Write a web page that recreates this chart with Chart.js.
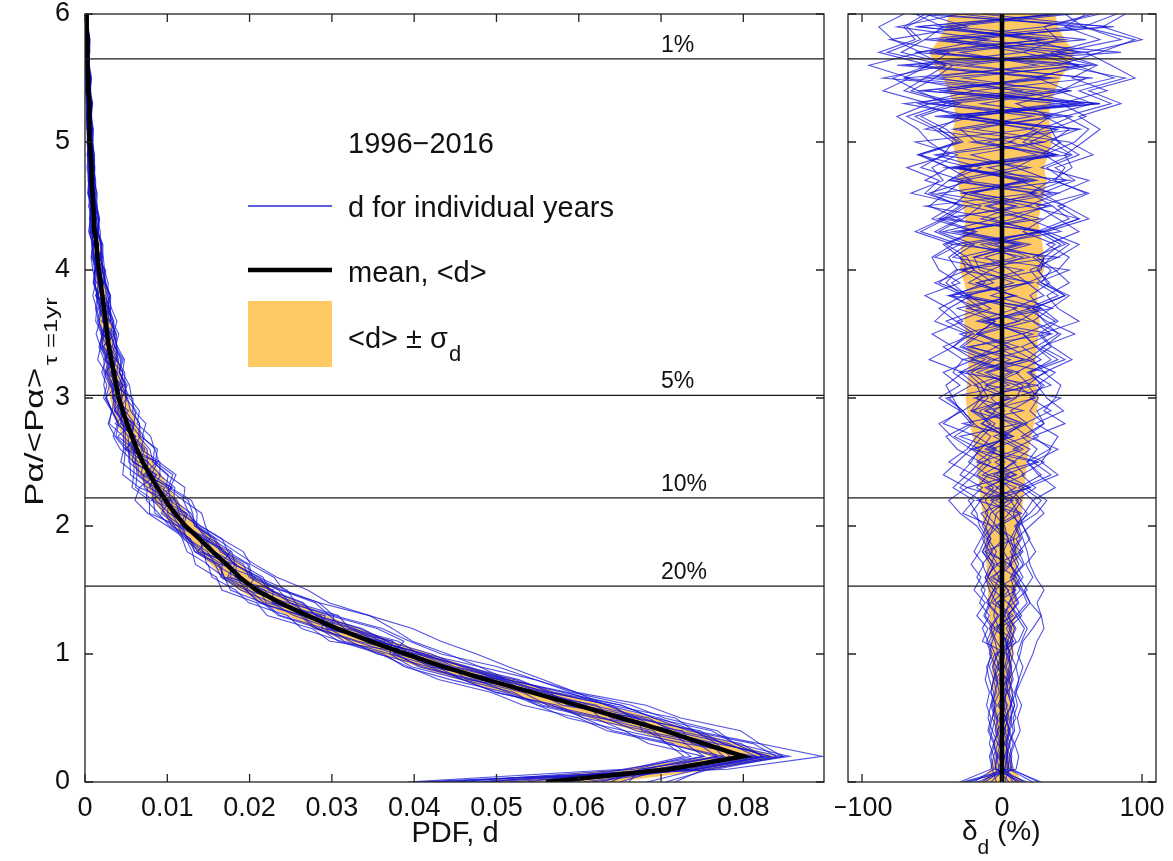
<!DOCTYPE html>
<html>
<head>
<meta charset="utf-8">
<script src="https://cdn.jsdelivr.net/npm/chart.js@4.4.1/dist/chart.umd.min.js"></script>
<style>
  html, body { margin: 0; padding: 0; background: #fff; }
  #wrap { position: relative; width: 1173px; height: 861px; }
  #left { position: absolute; left: 0; top: 0; }
  #right { position: absolute; left: 835px; top: 0; }
</style>
</head>
<body>
<div id="wrap">
  <canvas id="left" width="835" height="861"></canvas>
  <canvas id="right" width="338" height="861"></canvas>
</div>
<script>
// bins of P/<P> (vertical axis)
const levels = [0.0, 0.1, 0.2, 0.3, 0.4, 0.5, 0.6, 0.7, 0.8, 0.9,
  1.0, 1.1, 1.2, 1.3, 1.4, 1.5, 1.6, 1.7, 1.8, 1.9,
  2.0, 2.1, 2.2, 2.3, 2.4, 2.5, 2.6, 2.7, 2.8, 2.9,
  3.0, 3.1, 3.2, 3.3, 3.4, 3.5, 3.6, 3.7, 3.8, 3.9,
  4.0, 4.1, 4.2, 4.3, 4.4, 4.5, 4.6, 4.7, 4.8, 4.9,
  5.0, 5.1, 5.2, 5.3, 5.4, 5.5, 5.6, 5.7, 5.8, 5.9, 6.0];

// mean pdf <d>
const meanD = [0.0560, 0.0710, 0.0800, 0.0752, 0.0705, 0.0652, 0.0598, 0.0543, 0.0488, 0.0436,
  0.0390, 0.0346, 0.0306, 0.0270, 0.0237, 0.0208, 0.0188, 0.0172, 0.0155, 0.0139,
  0.0122, 0.0109, 0.0098, 0.0088, 0.0079, 0.0070, 0.0063, 0.0057, 0.0051, 0.0046,
  0.0041, 0.0038, 0.0035, 0.0032, 0.0029, 0.0027, 0.0025, 0.0023, 0.0021, 0.0019,
  0.0017, 0.0015, 0.0014, 0.0012, 0.0011, 0.0010, 0.0009, 0.0008, 0.0008, 0.0007,
  0.0006, 0.0006, 0.0005, 0.0005, 0.0004, 0.0004, 0.0003, 0.0003, 0.0003, 0.0002, 0.0002];

// sigma_d in % of <d>
const sigmaPct = [15, 8, 5, 5, 5, 6, 6, 6, 7, 7,
  8, 8, 9, 9, 10, 10, 11, 11, 12, 12,
  13, 14, 15, 16, 17, 18, 19, 21, 23, 25,
  26, 25, 24, 24, 25, 26, 27, 26, 25, 27,
  30, 30, 29, 27, 26, 28, 30, 32, 30, 33,
  36, 35, 33, 35, 38, 42, 48, 52, 45, 40, 38];

// deviation of each year from the mean, delta_d (%)
const dev1996 = [-24, 4,3,5,8,6,9,7,5,10,6, 3,-2,-6,-4,-9,-12,-8,-14,-10,-16, -18,-24,-14,-30,-22,-16,-34,-20,-28,-38, -22,-35,-28,-42,-20,-33,-45,-28,-40,-32, -38,-25,-48,-30,-52,-40,-28,-58,-42,-35, -48,-68,-40,-60,-78,-52,-88,-62,-70,-55];
const dev1997 = [18, -5,-4,-6,-3,-7,-5,-8,-6,-4,-9, -7,-3,2,5,9,6,12,8,14,10, 16,22,12,28,18,25,14,30,20,26, 18,30,22,35,26,40,28,20,34,25, 30,42,25,48,36,20,45,32,55,40, 35,60,42,75,50,68,40,85,58,45];
const dev1998 = [-8, 2,-3,1,-4,3,-2,4,-5,2,-3, 5,-6,8,-4,10,-8,6,-12,9,-5, 12,-18,20,-10,25,-22,8,-28,15,-20, 25,-30,18,-25,35,-15,28,-38,22,-30, 40,-35,30,-45,20,-28,48,-40,35,-22, 55,-48,70,-60,35,-75,62,-40,80,-65];
const dev1999 = [28, 6,7,5,9,8,11,9,12,10,13, 15,22,28,25,30,24,20,18,15,12, 8,14,5,-6,10,-12,4,-15,2,-8, 10,-18,6,-22,14,-10,20,-25,8,-16, -20,12,-30,18,-12,25,-35,10,-22,30, -35,22,-50,38,-28,55,-62,30,-45,40];
const dev2000 = [-30, -8,-6,-9,-7,-10,-8,-6,-9,-11,-7, -10,-14,-9,-16,-12,-18,-13,-20,-15,-11, -8,4,-12,10,-5,15,-2,18,6,22, 28,20,35,24,40,30,22,45,32,26, 35,48,28,55,40,62,36,50,45,58, 70,55,85,62,95,78,60,100,72,88];
const dev2001 = [10, 3,2,4,1,5,3,2,4,6,3, 4,7,2,-3,5,-6,3,-8,1,-4, -12,-6,-18,-10,-24,-15,-8,-20,-28,-14, -18,-30,-12,-35,-22,-40,-15,-28,-48,-25, -30,-42,-20,-50,-35,-25,-55,-38,-60,-32, -45,-62,-35,-70,-55,-40,-82,-58,-68,-50];
const dev2002 = [22, 5,4,3,6,2,7,4,3,5,8, 6,9,4,11,7,13,5,10,8,12, 18,10,24,14,30,8,26,16,35,20, 30,18,40,25,15,38,22,45,28,35, 22,45,30,55,18,40,62,28,50,35, 48,30,65,40,80,52,35,70,45,60];
const dev2003 = [-14, -2,-4,-1,-5,-3,-6,-2,-4,-7,-3, -5,-9,-3,-11,-6,-2,-8,-4,-10,-6, -4,8,-10,5,-15,12,-6,16,-12,4, -20,6,-28,12,-18,-5,-32,10,-24,-8, 15,-25,28,-38,10,-45,22,-30,38,-18, -30,45,-55,25,-70,40,-48,60,-35,50];
const dev2004 = [5, -3,1,-2,3,-4,2,-1,4,-3,1, 8,3,10,5,13,7,15,9,6,11, 25,32,18,40,28,35,22,45,30,38, 42,30,50,36,28,55,40,32,48,38, 25,38,15,30,45,20,35,10,28,42, 20,35,10,48,25,55,15,40,30,65];
const dev2005 = [-18, 8,6,9,5,10,7,4,8,6,5, 3,-4,6,-7,2,-10,-5,-14,-8,-12, -22,-15,-30,-20,-38,-25,-18,-42,-30,-35, -40,-28,-52,-35,-25,-48,-38,-55,-30,-45, -50,-35,-62,-42,-28,-55,-45,-68,-38,-52, -60,-75,-52,-85,-66,-95,-58,-78,-88,-70];
const dev2006 = [12, -4,-6,-3,-7,-5,-8,-4,-6,-2,-5, -9,-5,-12,-8,-4,-10,-14,-7,-11,-3, 5,12,-4,16,8,20,2,14,-6,10, 15,-10,22,4,-18,12,28,-8,18,6, -12,20,-28,8,32,-20,15,-35,25,-10, 38,-25,55,-40,20,62,-52,30,-60,45];
const dev2007 = [-26, 10,12,9,13,11,14,10,12,15,11, 14,18,12,20,16,22,17,24,19,15, 12,6,15,-4,8,-10,3,-14,-5,-18, -10,-22,-5,-28,-15,-32,-8,-25,-36,-20, -25,-40,-18,-45,-30,-52,-22,-38,-58,-28, -40,-58,-30,-65,-48,-35,-72,-55,-42,-62];
const dev2008 = [8, 2,4,3,5,7,6,10,14,18,22, 25,30,28,20,15,10,6,8,4,2, -6,-12,-3,-18,-8,-22,-14,-5,-20,-10, -15,-25,-8,-30,-18,-5,-22,-35,-12,-28, 10,-15,25,-8,35,-22,18,-30,40,5, 25,-40,50,-20,65,-35,45,-55,30,70];
const dev2009 = [-4, -7,-9,-6,-10,-8,-11,-9,-12,-10,-8, -11,-7,-13,-9,-15,-10,-6,-12,-8,-14, -10,-16,-6,-20,-12,-4,-18,-8,-22,-15, 20,10,28,14,35,22,8,30,18,40, 48,32,55,40,25,60,38,45,30,52, 62,45,78,55,88,40,70,95,58,82];
const dev2010 = [26, 7,5,8,4,6,9,5,7,3,6, 2,6,-1,8,4,-3,7,1,5,-2, 14,-5,20,2,26,-8,18,6,-12,24, 10,32,-6,24,15,-12,36,8,-18,28, 30,-10,42,18,-25,35,12,-32,48,20, 40,-22,58,10,-45,66,28,-38,75,-15];
const dev2011 = [-12, 1,-2,2,-1,3,-3,1,-2,0,2, -4,-8,-2,-10,-6,-12,-3,-9,-14,-7, -28,-20,-35,-25,-15,-32,-40,-22,-30,-45, -30,-42,-20,-35,-50,-28,-38,-22,-45,-33, 20,-5,30,-15,10,-28,25,-10,38,15, 28,50,-15,42,60,-25,55,20,-40,35];
const dev2012 = [16, -1,2,-3,1,-2,4,-1,3,-4,0, 6,10,4,12,8,15,10,6,13,9, 20,28,15,35,22,40,18,30,25,42, -10,12,-20,5,-15,20,-25,8,-18,15, -35,-20,-45,-28,-15,-50,-38,-22,-60,-30, -45,-30,-60,-20,-70,-52,-38,-80,-25,-55];
const dev2013 = [-20, -6,-8,-5,-9,-7,-4,-8,-6,-9,-5, 8,-2,12,4,-6,10,-4,14,2,-8, -15,6,-25,10,-18,-5,-30,12,-22,8, 35,20,45,28,52,32,18,40,25,48, -20,15,-35,28,-10,40,-28,20,-45,30, 55,-30,70,-45,38,-60,85,-20,60,-50];
const dev2014 = [2, 5,3,6,2,4,1,3,5,2,4, -14,-10,-18,-12,-20,-15,-22,-16,-12,-18, -30,-38,-25,-42,-32,-22,-36,-45,-28,-40, 5,-12,15,-5,22,-18,10,-28,18,-8, -48,-30,-58,-40,-25,-65,-42,-50,-32,-62, 20,-35,40,-55,28,-68,15,-45,52,-30];
const dev2015 = [-28, 4,6,2,5,3,6,8,5,7,4, 10,5,14,8,18,12,6,15,10,20, 30,22,38,26,18,34,40,24,44,32, 25,38,18,30,42,22,35,48,28,20, 40,55,32,62,45,28,52,38,65,48, -20,35,-38,50,-55,25,-30,45,-62,38];
const dev2016 = [14, -5,-3,-6,-2,-4,-7,-5,-3,-6,-4, 12,16,10,18,14,8,16,12,20,15, 5,-8,10,-14,2,-20,8,-10,-16,6, -12,8,-22,-4,-30,12,-16,-38,-6,-20, -30,10,-42,-5,-55,22,-38,-15,-48,8, -55,-20,-70,15,-85,-40,-60,-10,-75,-30];

const yearDevs = [dev1996, dev1997, dev1998, dev1999, dev2000, dev2001, dev2002,
  dev2003, dev2004, dev2005, dev2006, dev2007, dev2008, dev2009,
  dev2010, dev2011, dev2012, dev2013, dev2014, dev2015, dev2016];

// axis ticks and labels
const pdfTicks = [0, 0.01, 0.02, 0.03, 0.04, 0.05, 0.06, 0.07, 0.08];
const pdfTickLabels = ['0', '0.01', '0.02', '0.03', '0.04', '0.05', '0.06', '0.07', '0.08'];
const devTicks = [-100, 0, 100];
const devTickLabels = ['\u2212100', '0', '100'];
const levelTicks = [0, 1, 2, 3, 4, 5, 6];
const levelTickLabels = ['0', '1', '2', '3', '4', '5', '6'];

// percentile levels
const pctLevels = [5.65, 3.02, 2.22, 1.53];
const pctNames = ['1%', '5%', '10%', '20%'];

const PDF_MAX = 0.0898;
const DEV_MIN = -110, DEV_MAX = 110;
const FONT = '"Liberation Sans", Arial, Helvetica, sans-serif';
const BLUE = 'rgba(15, 15, 215, 0.72)';
const ORANGE = 'rgb(254, 201, 99)';

// ---- build datasets ----
function pctLineSets(xmin, xmax) {
  return pctLevels.map(lv => ({
    data: [{ x: xmin, y: lv }, { x: xmax, y: lv }],
    showLine: true, borderColor: '#1a1a1a', borderWidth: 1.2, pointRadius: 0, fill: false
  }));
}

const leftMean = { data: levels.map((y, i) => ({ x: meanD[i], y })), showLine: true,
  borderColor: '#000', borderWidth: 4.5, pointRadius: 0, fill: false };
const leftYears = yearDevs.map(dev => ({
  data: levels.map((y, i) => ({ x: meanD[i] * (1 + dev[i] / 100), y })),
  showLine: true, borderColor: BLUE, borderWidth: 1.1, pointRadius: 0, fill: false
}));
const leftBand = {
  data: levels.map((y, i) => ({ x: meanD[i] * (1 - sigmaPct[i] / 100), y }))
    .concat(levels.map((y, i) => ({ x: meanD[i] * (1 + sigmaPct[i] / 100), y })).reverse()),
  showLine: true, borderWidth: 0, borderColor: ORANGE, backgroundColor: ORANGE,
  pointRadius: 0, fill: 'shape'
};

const rightMean = { data: levels.map(y => ({ x: 0, y })), showLine: true,
  borderColor: '#000', borderWidth: 4.5, pointRadius: 0, fill: false };
const rightYears = yearDevs.map(dev => ({
  data: levels.map((y, i) => ({ x: dev[i], y })),
  showLine: true, borderColor: BLUE, borderWidth: 1.1, pointRadius: 0, fill: false
}));
const rightBand = {
  data: levels.map((y, i) => ({ x: -sigmaPct[i], y }))
    .concat(levels.map((y, i) => ({ x: sigmaPct[i], y })).reverse()),
  showLine: true, borderWidth: 0, borderColor: ORANGE, backgroundColor: ORANGE,
  pointRadius: 0, fill: 'shape'
};

// box + inward ticks, MATLAB style
const framePlugin = {
  id: 'frame',
  afterDatasetsDraw(chart, args, opts) {
    const { ctx, chartArea: a, scales } = chart;
    ctx.save();
    ctx.strokeStyle = '#222';
    ctx.lineWidth = 1.3;
    ctx.strokeRect(a.left, a.top, a.right - a.left, a.bottom - a.top);
    ctx.beginPath();
    opts.xTicks.forEach(v => {
      const px = scales.x.getPixelForValue(v);
      ctx.moveTo(px, a.bottom); ctx.lineTo(px, a.bottom - 8);
      ctx.moveTo(px, a.top); ctx.lineTo(px, a.top + 8);
    });
    levelTicks.forEach(v => {
      const py = scales.y.getPixelForValue(v);
      ctx.moveTo(a.left, py); ctx.lineTo(a.left + 8, py);
      ctx.moveTo(a.right, py); ctx.lineTo(a.right - 8, py);
    });
    ctx.stroke();
    ctx.restore();
  }
};

// texts of the left panel: legend, percent labels, axis titles
const leftText = {
  id: 'leftText',
  afterDraw(chart) {
    const { ctx, scales } = chart;
    ctx.save();
    ctx.fillStyle = '#111';
    ctx.textBaseline = 'alphabetic';
    ctx.textAlign = 'left';

    // percent labels above the lines
    ctx.font = '23px ' + FONT;
    pctLevels.forEach((lv, i) => {
      ctx.fillText(pctNames[i], 661, scales.y.getPixelForValue(lv) - 7);
    });

    // legend
    ctx.font = '29px ' + FONT;
    ctx.fillText('1996\u22122016', 348, 153);
    ctx.strokeStyle = 'rgb(40,40,200)';
    ctx.lineWidth = 1.5;
    ctx.beginPath(); ctx.moveTo(248, 206); ctx.lineTo(332, 206); ctx.stroke();
    ctx.fillText('d for individual years', 348, 217);
    ctx.strokeStyle = '#000';
    ctx.lineWidth = 4.5;
    ctx.beginPath(); ctx.moveTo(248, 270); ctx.lineTo(332, 270); ctx.stroke();
    ctx.fillText('mean, <d>', 348, 282);
    ctx.fillStyle = ORANGE;
    ctx.fillRect(248, 301, 84, 66);
    ctx.fillStyle = '#111';
    const t = '<d> \u00b1 \u03c3';
    ctx.fillText(t, 348, 348);
    const tw = ctx.measureText(t).width;
    ctx.font = '22px ' + FONT;
    ctx.fillText('d', 348 + tw + 1, 361);

    // x title
    ctx.font = '29px ' + FONT;
    ctx.textAlign = 'center';
    ctx.fillText('PDF, d', 455, 842);

    // y title, rotated with subscript
    ctx.translate(43, 506);
    ctx.rotate(-Math.PI / 2);
    ctx.scale(1.35, 1);
    ctx.textAlign = 'left';
    ctx.font = '26px ' + FONT;
    const main = 'P\u03b1/<P\u03b1>';
    ctx.fillText(main, 0, 0);
    const mw = ctx.measureText(main).width;
    ctx.font = '19px ' + FONT;
    ctx.fillText('\u03c4 =1yr', mw + 2, 14);
    ctx.restore();
  }
};

const rightText = {
  id: 'rightText',
  afterDraw(chart) {
    const { ctx } = chart;
    ctx.save();
    ctx.fillStyle = '#111';
    ctx.textBaseline = 'alphabetic';
    ctx.textAlign = 'left';
    ctx.font = '28px ' + FONT;
    const x0 = 962 - 835;
    ctx.fillText('\u03b4', x0, 840);
    const dw = ctx.measureText('\u03b4').width;
    ctx.font = '21px ' + FONT;
    ctx.fillText('d', x0 + dw, 854);
    const sw = ctx.measureText('d').width;
    ctx.font = '28px ' + FONT;
    ctx.fillText(' (%)', x0 + dw + sw, 840);
    ctx.restore();
  }
};

function xScale(min, max, ticks, labels) {
  return {
    type: 'linear', min, max,
    grid: { display: false }, border: { display: false },
    afterBuildTicks: s => { s.ticks = ticks.map(v => ({ value: v })); },
    afterFit: s => { s.height = 79; s.paddingLeft = 0; s.paddingRight = 0; },
    ticks: {
      autoSkip: false, maxRotation: 0, padding: 2, color: '#111',
      font: { family: FONT, size: 27 },
      callback: v => labels[ticks.indexOf(v)]
    }
  };
}

const baseOpts = {
  responsive: false,
  animation: false,
  events: [],
  plugins: { legend: { display: false }, tooltip: { enabled: false } }
};

new Chart(document.getElementById('left'), {
  type: 'scatter',
  data: { datasets: [...pctLineSets(0, PDF_MAX), leftMean, ...leftYears, leftBand] },
  options: {
    ...baseOpts,
    layout: { padding: { top: 14, right: 11, left: 0, bottom: 0 } },
    plugins: { ...baseOpts.plugins, frame: { xTicks: pdfTicks } },
    scales: {
      x: xScale(0, PDF_MAX, pdfTicks, pdfTickLabels),
      y: {
        type: 'linear', min: 0, max: 6,
        grid: { display: false }, border: { display: false },
        afterBuildTicks: s => { s.ticks = levelTicks.map(v => ({ value: v })); },
        afterFit: s => { s.width = 85; s.paddingTop = 0; s.paddingBottom = 0; },
        ticks: {
          padding: 7, color: '#111', font: { family: FONT, size: 27 },
          callback: v => levelTickLabels[levelTicks.indexOf(v)]
        }
      }
    }
  },
  plugins: [framePlugin, leftText]
});

new Chart(document.getElementById('right'), {
  type: 'scatter',
  data: { datasets: [...pctLineSets(DEV_MIN, DEV_MAX), rightMean, ...rightYears, rightBand] },
  options: {
    ...baseOpts,
    layout: { padding: { top: 14, right: 17, left: 13, bottom: 0 } },
    plugins: { ...baseOpts.plugins, frame: { xTicks: devTicks } },
    scales: {
      x: xScale(DEV_MIN, DEV_MAX, devTicks, devTickLabels),
      y: { type: 'linear', min: 0, max: 6, display: false }
    }
  },
  plugins: [framePlugin, rightText]
});
</script>
</body>
</html>
